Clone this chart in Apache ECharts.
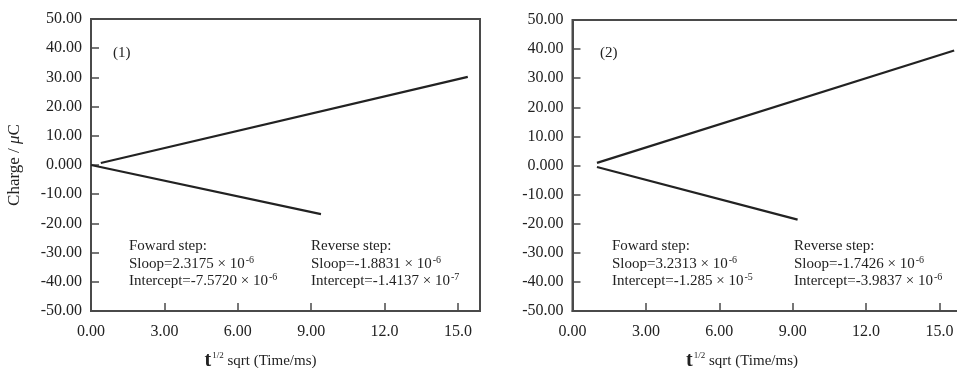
<!DOCTYPE html>
<html>
<head>
<meta charset="utf-8">
<script src="https://cdn.jsdelivr.net/npm/echarts@6/dist/echarts.min.js"></script>
<style>
html,body{margin:0;padding:0;background:#fff;}
#c{width:957px;height:368px;}
</style>
</head>
<body>
<div id="c"></div>
<script>
// ---- data ----
var xTickLabels = ['0.00', '3.00', '6.00', '9.00', '12.0', '15.0'];
var yTickLabels = ['-50.00', '-40.00', '-30.00', '-20.00', '-10.00', '0.000', '10.00', '20.00', '30.00', '40.00', '50.00'];
var panelTags = ['(1)', '(2)'];
var forward1 = [[0.4, 0.7], [15.4, 30.2]];
var reverse1 = [[0.0, 0.0], [9.4, -16.8]];
var forward2 = [[1.0, 0.9], [15.6, 39.5]];
var reverse2 = [[1.0, -0.5], [9.2, -18.6]];
var forwardText1 = ['Foward step:', 'Sloop=2.3175 × 10', '-6', 'Intercept=-7.5720 × 10', '-6'];
var reverseText1 = ['Reverse step:', 'Sloop=-1.8831 × 10', '-6', 'Intercept=-1.4137 × 10', '-7'];
var forwardText2 = ['Foward step:', 'Sloop=3.2313 × 10', '-6', 'Intercept=-1.285 × 10', '-5'];
var reverseText2 = ['Reverse step:', 'Sloop=-1.7426 × 10', '-6', 'Intercept=-3.9837 × 10', '-6'];

var FONT = '"Liberation Serif", "DejaVu Serif", serif';
var AX = '#4a4a4a';
var chart = echarts.init(document.getElementById('c'), null, {renderer: 'canvas'});

function xLabel(v) {
  var i = Math.round(v / 3);
  if (Math.abs(v - i * 3) > 1e-6 || i < 0 || i >= xTickLabels.length) return '';
  return xTickLabels[i];
}
function yLabel(v) {
  var i = Math.round((v + 50) / 10);
  if (Math.abs(v + 50 - i * 10) > 1e-6) return '';
  return yTickLabels[i];
}

function xAxisDef(idx) {
  return {
    type: 'value', gridIndex: idx, min: 0, max: 15.9, interval: 3,
    axisLine: {show: true, onZero: false, lineStyle: {color: AX, width: 2}},
    axisTick: {show: true, inside: true, length: 8, lineStyle: {color: AX, width: 1.5}},
    axisLabel: {formatter: xLabel, color: '#222', fontFamily: FONT, fontSize: 16, margin: 13, showMaxLabel: false},
    splitLine: {show: false},
    name: '{t|t}{s|1/2}{n| sqrt (Time/ms)}',
    nameLocation: 'middle', nameGap: 40,
    nameTextStyle: {
      padding: [0, 50, 0, 0],
      rich: {
        t: {fontFamily: FONT, fontSize: 20, fontWeight: 'bold', color: '#222', lineHeight: 20},
        s: {fontFamily: FONT, fontSize: 9, color: '#222', verticalAlign: 'top', lineHeight: 20, padding: [0, 0, 6, 1]},
        n: {fontFamily: FONT, fontSize: 15, color: '#222', lineHeight: 20}
      }
    }
  };
}
function yAxisDef(idx, withName) {
  var a = {
    type: 'value', gridIndex: idx, min: -50, max: 50, interval: 10,
    axisLine: {show: true, onZero: false, lineStyle: {color: AX, width: 2}},
    axisTick: {show: true, inside: true, length: 8, lineStyle: {color: AX, width: 1.5}},
    axisLabel: {formatter: yLabel, color: '#222', fontFamily: FONT, fontSize: 16, margin: 9},
    splitLine: {show: false}
  };
  if (withName) {
    a.name = '{a|Charge / }{m|μ}{a|C}';
    a.nameLocation = 'middle';
    a.nameGap = 68;
    a.nameTextStyle = {
      rich: {
        a: {fontFamily: FONT, fontSize: 17, color: '#222'},
        m: {fontFamily: FONT, fontSize: 17, fontStyle: 'italic', color: '#222'}
      }
    };
  }
  return a;
}

function lineSeries(idx, data) {
  return {
    type: 'line', xAxisIndex: idx, yAxisIndex: idx, data: data,
    symbol: 'none', silent: true, animation: false,
    lineStyle: {color: '#222', width: 2.2}
  };
}

function block(lines, left, top) {
  return {
    type: 'text', left: left, top: top, silent: true,
    style: {
      text: '{n|' + lines[0] + '}\n{n|' + lines[1] + '}{s|' + lines[2] + '}\n{n|' + lines[3] + '}{s|' + lines[4] + '}',
      rich: {
        n: {fontFamily: FONT, fontSize: 15, fill: '#222', lineHeight: 17.5},
        s: {fontFamily: FONT, fontSize: 10, fill: '#222', lineHeight: 17.5, verticalAlign: 'top', padding: [0, 0, 5, 1]}
      }
    }
  };
}
function tag(text, left, top) {
  return {type: 'text', left: left, top: top, silent: true,
    style: {text: text, fontFamily: FONT, fontSize: 15, fill: '#222'}};
}

chart.setOption({
  animation: false,
  backgroundColor: '#fff',
  grid: [
    {left: 91, top: 19, width: 389, height: 292, show: true, borderColor: AX, borderWidth: 2, backgroundColor: 'transparent', outerBoundsMode: 'none', containLabel: false},
    {left: 572.5, top: 20, width: 389, height: 291, show: true, borderColor: AX, borderWidth: 2, backgroundColor: 'transparent', outerBoundsMode: 'none', containLabel: false}
  ],
  xAxis: [xAxisDef(0), xAxisDef(1)],
  yAxis: [yAxisDef(0, true), yAxisDef(1, false)],
  series: [
    lineSeries(0, forward1), lineSeries(0, reverse1),
    lineSeries(1, forward2), lineSeries(1, reverse2)
  ],
  graphic: [
    tag(panelTags[0], 113, 46),
    tag(panelTags[1], 600, 46),
    block(forwardText1, 129, 239),
    block(reverseText1, 311, 239),
    block(forwardText2, 612, 239),
    block(reverseText2, 794, 239)
  ]
});
</script>
</body>
</html>
